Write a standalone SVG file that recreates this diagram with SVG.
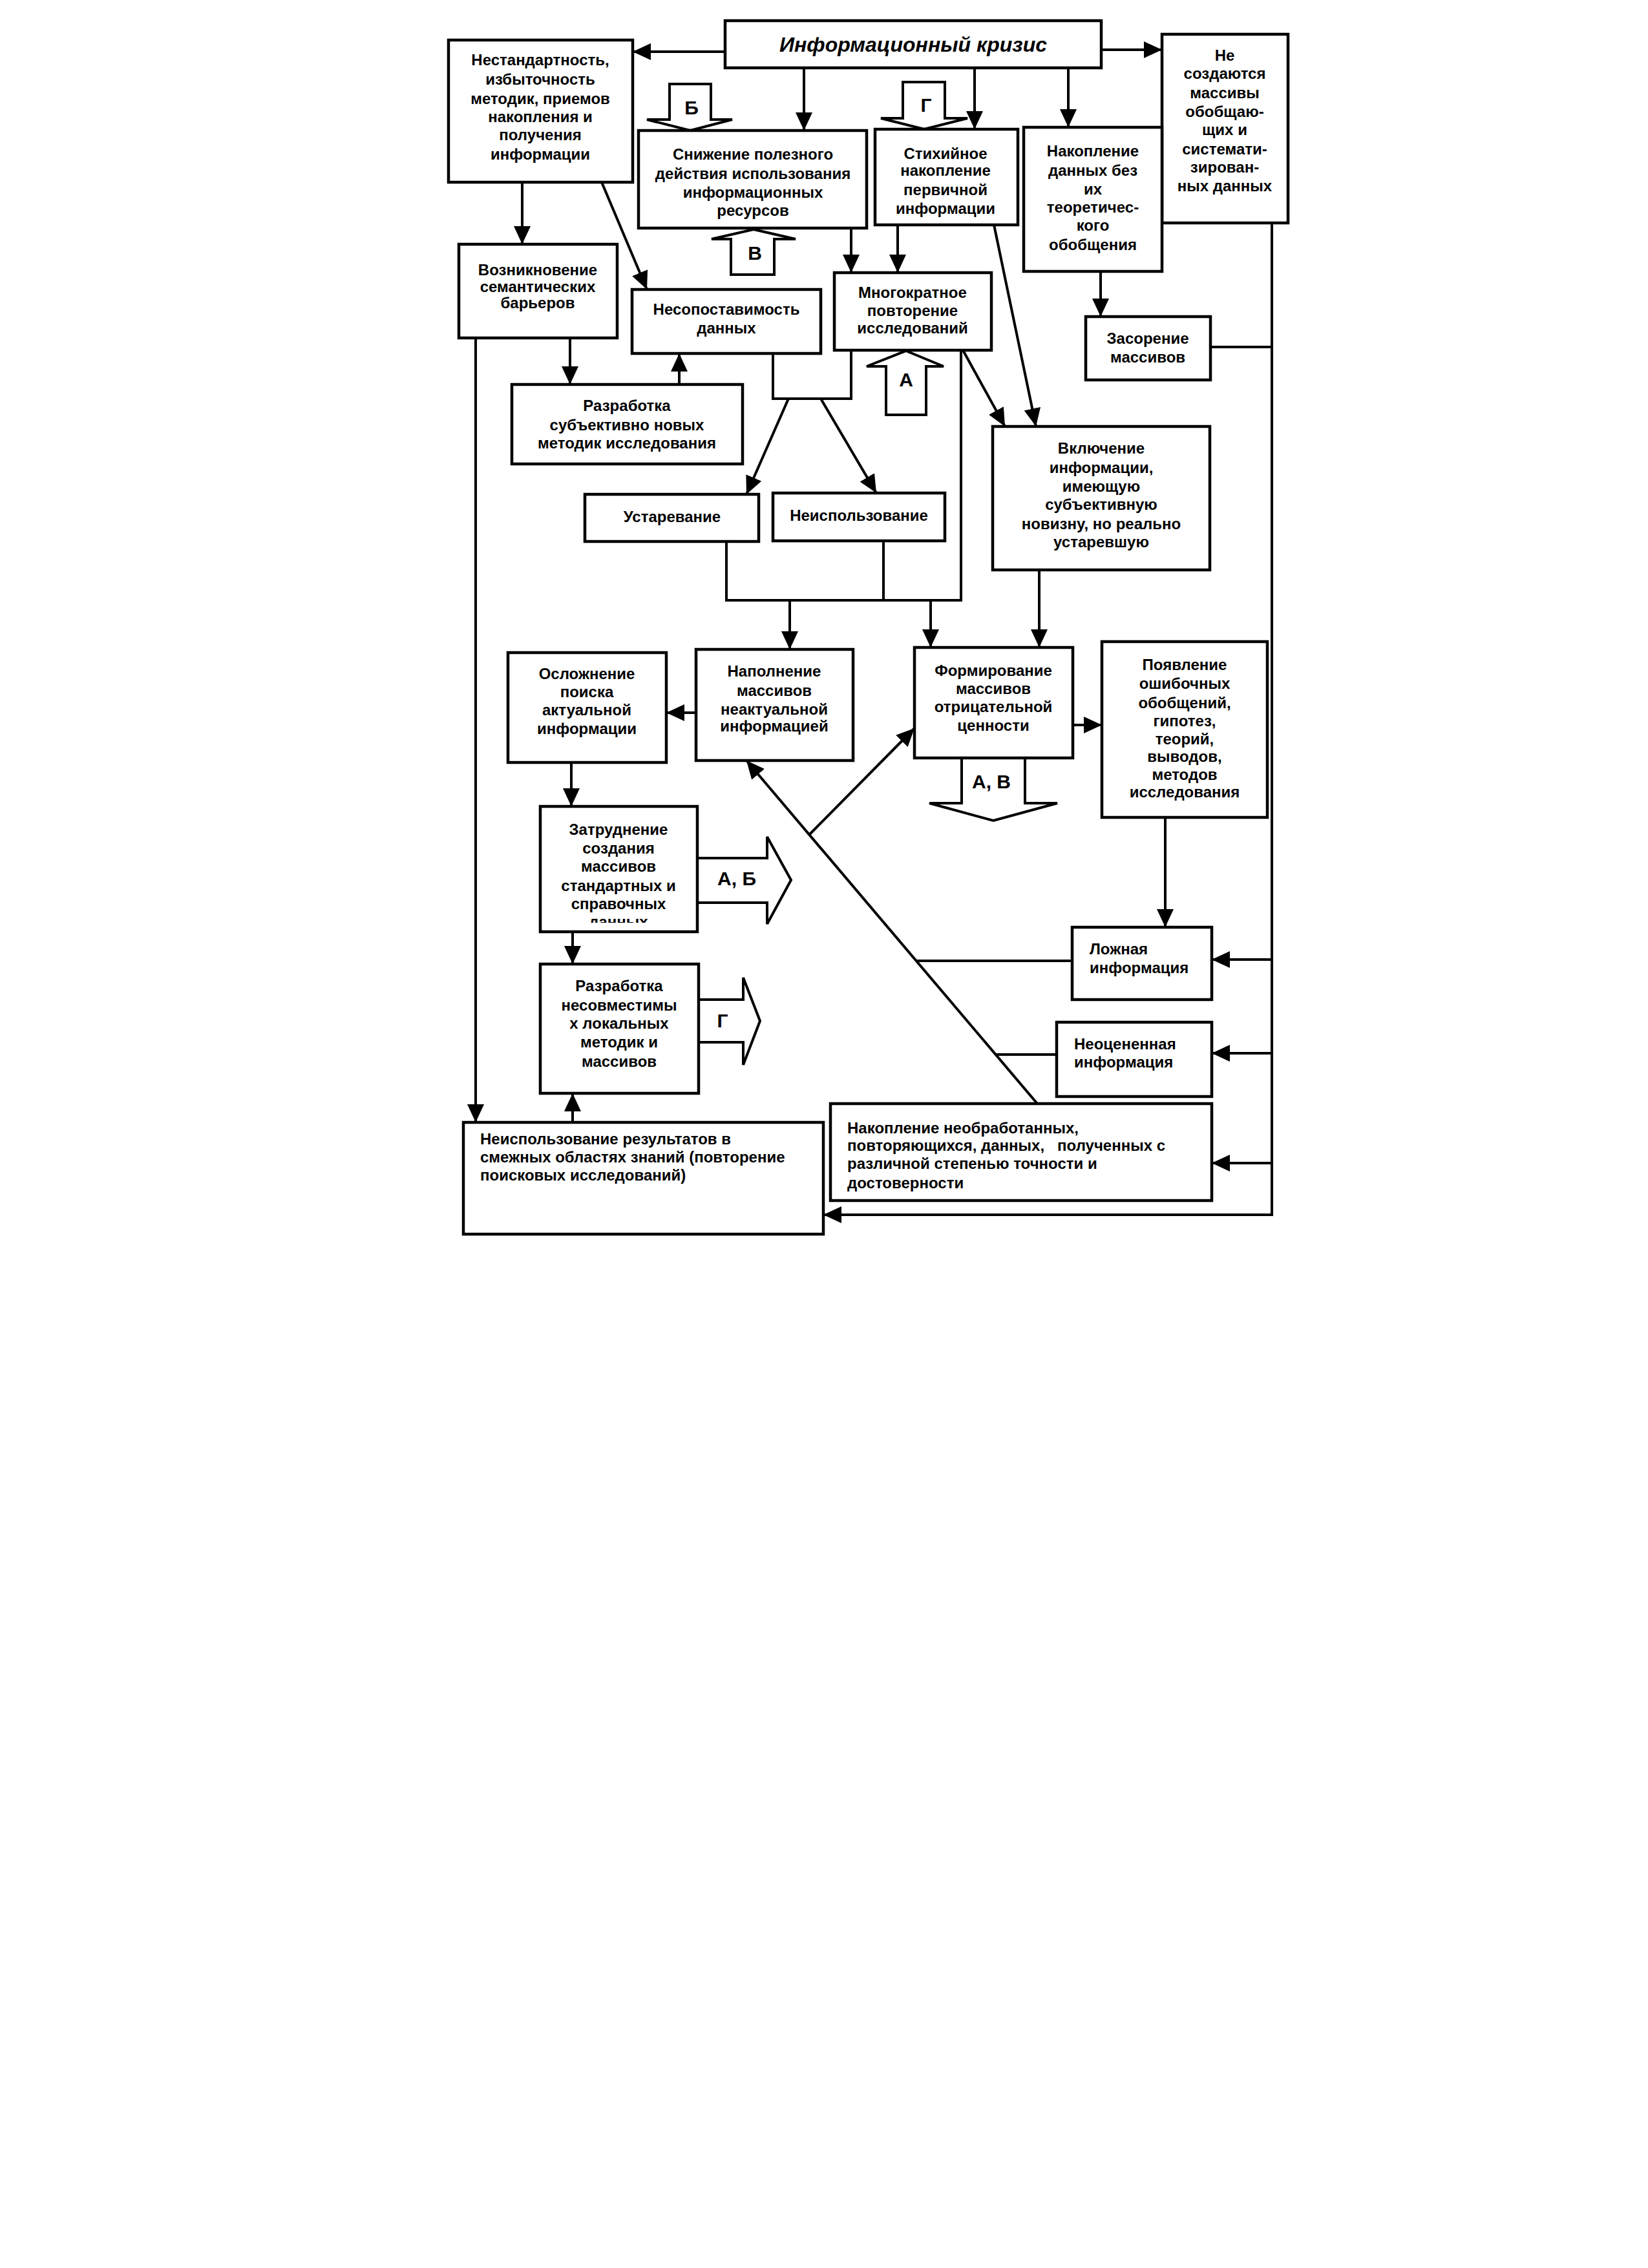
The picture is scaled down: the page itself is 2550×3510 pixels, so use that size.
<svg xmlns="http://www.w3.org/2000/svg" width="2550" height="3510" viewBox="0 0 2550 3510">
<style>
.box{fill:#fff;stroke:#000;stroke-width:4.5}
.t{font-family:"Liberation Sans",Arial,sans-serif;font-weight:bold;font-size:24px;text-anchor:middle;fill:#000}
.l{text-anchor:start}
.h{font-size:32px;font-style:italic}
.lab{font-family:"Liberation Sans",Arial,sans-serif;font-weight:bold;font-size:30px;text-anchor:middle;fill:#000}
.c{stroke:#000;stroke-width:4;fill:none}
.a{marker-end:url(#ah)}
.blk{fill:#fff;stroke:#000;stroke-width:4;stroke-linejoin:miter}
</style>
<defs>
<marker id="ah" markerUnits="userSpaceOnUse" markerWidth="30" markerHeight="26" refX="28" refY="13" orient="auto"><path d="M0,0 L28,13 L0,26 z" fill="#000"/></marker>
<clipPath id="clipZ"><rect x="836" y="1248" width="243" height="180"/></clipPath>
</defs>
<rect x="0" y="0" width="2550" height="3510" fill="#fff"/>

<g id="connectors">
<path class="c a" d="M1122,80 L979,80"/>
<path class="c a" d="M1704,77 L1798,77"/>
<path class="c a" d="M1244,105 L1244,202"/>
<path class="c a" d="M1508,105 L1508,200"/>
<path class="c a" d="M1653,105 L1653,197"/>
<path class="c a" d="M1317,353 L1317,422"/>
<path class="c a" d="M1389,348 L1389,422"/>
<path class="c a" d="M808,282 L808,378"/>
<path class="c a" d="M931,282 L1001,448"/>
<path class="c a" d="M1538,348 L1603,660"/>
<path class="c a" d="M1703,420 L1703,490"/>
<path class="c a" d="M882,523 L882,595"/>
<path class="c a" d="M1051,595 L1051,547"/>
<path class="c" d="M1196,547 L1196,617 L1317,617 L1317,542"/>
<path class="c a" d="M1220,617 L1155,765"/>
<path class="c a" d="M1270,617 L1356,763"/>
<path class="c a" d="M1490,542 L1555,660"/>
<path class="c" d="M1124,838 L1124,929 L1487,929 L1487,542"/>
<path class="c" d="M1367,837 L1367,929"/>
<path class="c a" d="M1222,929 L1222,1005"/>
<path class="c a" d="M1440,929 L1440,1002"/>
<path class="c a" d="M1608,882 L1608,1002"/>
<path class="c a" d="M1077,1103 L1031,1103"/>
<path class="c a" d="M1660,1122 L1705,1122"/>
<path class="c a" d="M884,1180 L884,1248"/>
<path class="c a" d="M1803,1265 L1803,1435"/>
<path class="c a" d="M886,1442 L886,1492"/>
<path class="c a" d="M736,523 L736,1737"/>
<path class="c a" d="M886,1737 L886,1692"/>
<path class="c a" d="M1605,1708 L1155,1177"/>
<path class="c a" d="M1251,1293 L1415,1127"/>
<path class="c" d="M1659,1487 L1417,1487"/>
<path class="c" d="M1635,1632 L1540,1632"/>
<path class="c a" d="M1968,345 L1968,1880 L1274,1880"/>
<path class="c" d="M1873,537 L1968,537"/>
<path class="c a" d="M1968,1485 L1875,1485"/>
<path class="c a" d="M1968,1630 L1875,1630"/>
<path class="c a" d="M1968,1800 L1875,1800"/>
</g>

<g id="block-arrows">
<polygon class="blk" points="1036,130 1100,130 1100,185 1133,185 1068,202 1001,185 1036,185"/>
<text class="lab" x="1070" y="177">Б</text>
<polygon class="blk" points="1166,355 1231,370 1198,370 1198,425 1131,425 1131,370 1101,370"/>
<text class="lab" x="1168" y="402">В</text>
<polygon class="blk" points="1397,127 1462,127 1462,183 1497,183 1430,200 1363,183 1397,183"/>
<text class="lab" x="1433" y="173">Г</text>
<polygon class="blk" points="1402,543 1460,567 1433,567 1433,642 1371,642 1371,567 1341,567"/>
<text class="lab" x="1402" y="598">А</text>
<polygon class="blk" points="1079,1328 1187,1328 1187,1295 1224,1362 1187,1430 1187,1397 1079,1397"/>
<text class="lab" x="1140" y="1370">А, Б</text>
<polygon class="blk" points="1488,1173 1586,1173 1586,1243 1636,1243 1537,1270 1438,1243 1488,1243"/>
<text class="lab" x="1534" y="1220">А, В</text>
<polygon class="blk" points="1081,1547 1150,1547 1150,1513 1176,1580 1150,1648 1150,1613 1081,1613"/>
<text class="lab" x="1118" y="1590">Г</text>
</g>

<g id="n_crisis"><rect class="box" x="1122" y="32" width="582" height="73"/>
<text class="t h" x="1413" y="80">Информационный кризис</text></g>

<g id="n_nestand"><rect class="box" x="694" y="62" width="285" height="220"/>
<text class="t"><tspan x="836" y="101">Нестандартность,</tspan><tspan x="836" y="131">избыточность</tspan><tspan x="836" y="161">методик, приемов</tspan><tspan x="836" y="189">накопления и</tspan><tspan x="836" y="217">получения</tspan><tspan x="836" y="247">информации</tspan></text></g>

<g id="n_nocreate"><rect class="box" x="1798" y="53" width="195" height="292"/>
<text class="t"><tspan x="1895" y="94">Не</tspan><tspan x="1895" y="122">создаются</tspan><tspan x="1895" y="152">массивы</tspan><tspan x="1895" y="181">обобщаю-</tspan><tspan x="1895" y="209">щих и</tspan><tspan x="1895" y="239">системати-</tspan><tspan x="1895" y="267">зирован-</tspan><tspan x="1895" y="296">ных данных</tspan></text></g>

<g id="n_snizh"><rect class="box" x="988" y="202" width="353" height="151"/>
<text class="t"><tspan x="1165" y="247">Снижение полезного</tspan><tspan x="1165" y="277">действия использования</tspan><tspan x="1165" y="306">информационных</tspan><tspan x="1165" y="334">ресурсов</tspan></text></g>

<g id="n_stih"><rect class="box" x="1354" y="200" width="221" height="148"/>
<text class="t"><tspan x="1463" y="246">Стихийное</tspan><tspan x="1463" y="272">накопление</tspan><tspan x="1463" y="302">первичной</tspan><tspan x="1463" y="331">информации</tspan></text></g>

<g id="n_nakopl"><rect class="box" x="1584" y="197" width="214" height="223"/>
<text class="t"><tspan x="1691" y="242">Накопление</tspan><tspan x="1691" y="272">данных без</tspan><tspan x="1691" y="301">их</tspan><tspan x="1691" y="329">теоретичес-</tspan><tspan x="1691" y="357">кого</tspan><tspan x="1691" y="387">обобщения</tspan></text></g>

<g id="n_vozn"><rect class="box" x="710" y="378" width="245" height="145"/>
<text class="t"><tspan x="832" y="426">Возникновение</tspan><tspan x="832" y="452">семантических</tspan><tspan x="832" y="477">барьеров</tspan></text></g>

<g id="n_nesop"><rect class="box" x="978" y="448" width="292" height="99"/>
<text class="t"><tspan x="1124" y="487">Несопоставимость</tspan><tspan x="1124" y="516">данных</tspan></text></g>

<g id="n_mnogo"><rect class="box" x="1291" y="422" width="243" height="120"/>
<text class="t"><tspan x="1412" y="461">Многократное</tspan><tspan x="1412" y="489">повторение</tspan><tspan x="1412" y="516">исследований</tspan></text></g>

<g id="n_zasor"><rect class="box" x="1680" y="490" width="193" height="98"/>
<text class="t"><tspan x="1776" y="532">Засорение</tspan><tspan x="1776" y="561">массивов</tspan></text></g>

<g id="n_razrab1"><rect class="box" x="792" y="595" width="357" height="123"/>
<text class="t"><tspan x="970" y="636">Разработка</tspan><tspan x="970" y="666">субъективно новых</tspan><tspan x="970" y="694">методик исследования</tspan></text></g>

<g id="n_ustar"><rect class="box" x="905" y="765" width="269" height="73"/>
<text class="t" x="1040" y="808">Устаревание</text></g>

<g id="n_neisp"><rect class="box" x="1196" y="763" width="266" height="74"/>
<text class="t" x="1329" y="806">Неиспользование</text></g>

<g id="n_vkl"><rect class="box" x="1536" y="660" width="336" height="222"/>
<text class="t"><tspan x="1704" y="702">Включение</tspan><tspan x="1704" y="732">информации,</tspan><tspan x="1704" y="761">имеющую</tspan><tspan x="1704" y="789">субъективную</tspan><tspan x="1704" y="819">новизну, но реально</tspan><tspan x="1704" y="847">устаревшую</tspan></text></g>

<g id="n_oslozh"><rect class="box" x="786" y="1010" width="245" height="170"/>
<text class="t"><tspan x="908" y="1051">Осложнение</tspan><tspan x="908" y="1079">поиска</tspan><tspan x="908" y="1107">актуальной</tspan><tspan x="908" y="1136">информации</tspan></text></g>

<g id="n_napoln"><rect class="box" x="1077" y="1005" width="243" height="172"/>
<text class="t"><tspan x="1198" y="1047">Наполнение</tspan><tspan x="1198" y="1077">массивов</tspan><tspan x="1198" y="1106">неактуальной</tspan><tspan x="1198" y="1132">информацией</tspan></text></g>

<g id="n_form"><rect class="box" x="1415" y="1002" width="245" height="171"/>
<text class="t"><tspan x="1537" y="1046">Формирование</tspan><tspan x="1537" y="1074">массивов</tspan><tspan x="1537" y="1102">отрицательной</tspan><tspan x="1537" y="1131">ценности</tspan></text></g>

<g id="n_poyavl"><rect class="box" x="1705" y="993" width="256" height="272"/>
<text class="t"><tspan x="1833" y="1037">Появление</tspan><tspan x="1833" y="1066">ошибочных</tspan><tspan x="1833" y="1096">обобщений,</tspan><tspan x="1833" y="1124">гипотез,</tspan><tspan x="1833" y="1152">теорий,</tspan><tspan x="1833" y="1179">выводов,</tspan><tspan x="1833" y="1207">методов</tspan><tspan x="1833" y="1234">исследования</tspan></text></g>

<g id="n_zatrud"><rect class="box" x="836" y="1248" width="243" height="194"/>
<text class="t"><tspan x="957" y="1292">Затруднение</tspan><tspan x="957" y="1321">создания</tspan><tspan x="957" y="1349">массивов</tspan><tspan x="957" y="1379">стандартных и</tspan><tspan x="957" y="1407">справочных</tspan></text>
<text class="t" x="957" y="1435" clip-path="url(#clipZ)">данных</text></g>

<g id="n_razrab2"><rect class="box" x="836" y="1492" width="245" height="200"/>
<text class="t"><tspan x="958" y="1534">Разработка</tspan><tspan x="958" y="1564">несовместимы</tspan><tspan x="958" y="1592">х локальных</tspan><tspan x="958" y="1621">методик и</tspan><tspan x="958" y="1651">массивов</tspan></text></g>

<g id="n_lozh"><rect class="box" x="1659" y="1435" width="216" height="112"/>
<text class="t l"><tspan x="1686" y="1477">Ложная</tspan><tspan x="1686" y="1506">информация</tspan></text></g>

<g id="n_neocen"><rect class="box" x="1635" y="1582" width="240" height="115"/>
<text class="t l"><tspan x="1662" y="1624">Неоцененная</tspan><tspan x="1662" y="1652">информация</tspan></text></g>

<g id="n_neisp_res"><rect class="box" x="717" y="1737" width="557" height="173"/>
<text class="t l"><tspan x="743" y="1771">Неиспользование  результатов в</tspan><tspan x="743" y="1799">смежных областях знаний (повторение</tspan><tspan x="743" y="1827">поисковых исследований)</tspan></text></g>

<g id="n_nakop_neobr"><rect class="box" x="1285" y="1708" width="590" height="150"/>
<text class="t l" xml:space="preserve"><tspan x="1311" y="1754">Накопление необработанных,</tspan><tspan x="1311" y="1781">повторяющихся, данных,   полученных с</tspan><tspan x="1311" y="1809">различной степенью точности и</tspan><tspan x="1311" y="1839">достоверности</tspan></text></g>
</svg>
